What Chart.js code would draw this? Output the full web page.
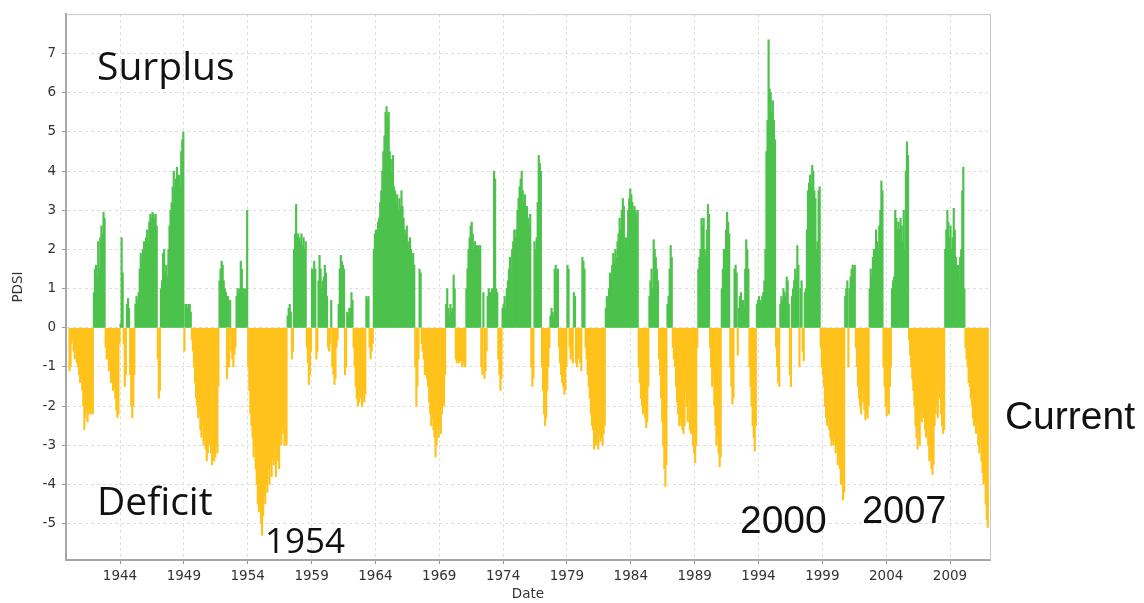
<!DOCTYPE html>
<html>
<head>
<meta charset="utf-8">
<script src="https://cdn.jsdelivr.net/npm/chart.js@4.4.1/dist/chart.umd.min.js"></script>
<style>
    html, body { margin: 0; padding: 0; background: #fff; }
</style>
</head>
<body>
<canvas id="chartPdsi" width="1144" height="603"></canvas>
<script>

// ================= DATI (PDSI mensile) =================

const primoAnno = 1940;

const pdsi1940s = [
    -1.1, -1.0, -0.4, -0.3, -0.6, -0.8, -0.5, -0.9, -1.0, -1.2, -1.4, -1.3,
    -1.6, -2.0, -2.6, -2.3, -2.1, -2.4, -2.2, -2.1, -2.2, -2.1, -2.2, 0.9,
    1.5, 1.6, 1.3, 2.2, 1.5, 2.3, 2.6, 2.4, 2.95, 2.8, -0.5, -0.8,
    -0.8, -1.1, -1.0, -1.4, -1.3, -1.6, -1.5, -1.8, -2.1, -2.3, -2.2, -0.4,
    0.1, 2.3, 1.4, -0.4, -1.5, -1.2, 0.6, 0.75, 0.5, -1.2, -2.0, -2.3,
    -2.0, -1.2, 0.6, 0.8, 0.7, 0.9, 1.5, 1.9, 1.7, 2.0, 2.2, 2.0,
    2.3, 2.5, 2.2, 2.7, 2.9, 2.8, 2.95, 2.9, 2.8, 2.9, 2.6, -0.8,
    -1.8, -1.6, 1.0, 1.2, 1.9, 2.0, 1.4, 1.6, 1.3, 2.0, 2.6, 3.0,
    3.2, 3.6, 4.0, 3.5, 3.8, 4.1, 3.4, 3.9, 3.6, 4.5, 4.8, 5.0,
    -0.6, 0.6, 0.6, 0.5, 0.6, 0.6, 0.4, -0.3, -0.6, -1.0, -1.4, -1.8
];

const pdsi1950s = [
    -2.0, -2.3, -2.2, -2.6, -2.8, -2.5, -3.0, -2.9, -3.1, -3.4, -3.2, -3.0,
    -2.8, -3.2, -3.5, -3.1, -3.4, -3.3, -3.0, -3.2, -1.5, 1.2, 1.5, 1.7,
    1.6, 1.2, 1.0, 0.9, -1.3, 0.8, -1.0, 0.7, -0.6, -0.8, -1.0, -0.7,
    -0.5, 0.8, 1.0, 0.9, 1.0, 1.7, 1.5, 0.9, 1.0, 0.8, 1.0, 3.0,
    -1.0, -1.6, -2.2, -2.5, -2.8, -3.3, -3.0, -3.6, -4.0, -4.5, -4.7, -4.6,
    -5.0, -5.3, -4.8, -4.3, -4.5, -4.0, -4.2, -3.6, -4.0, -3.5, -3.8, -3.3,
    -3.5, -3.0, -3.8, -3.4, -3.2, -3.6, -2.8, -3.0, -2.5, -2.7, -3.0, -2.9,
    -3.0, 0.3, 0.5, 0.6, 0.4, -0.8, -0.6, 2.0, 2.4, 3.15, 2.3, 2.4,
    2.3, 2.2, 2.4, 2.1, 2.3, 2.0, 2.2, -0.5, -0.9, -1.45, -1.2, -0.6,
    1.5, 1.4, 1.7, 1.5, -0.8, -0.6, 1.2, 1.85, 1.5, 1.0, 1.2, 1.3
];

const pdsi1960s = [
    1.6, 1.4, 0.8, -0.5, -0.6, -0.4, 0.7, -1.0, -1.2, -1.45, -1.3, -0.5,
    -0.3, 0.6, 1.5, 1.85, 1.7, 1.6, 1.5, -1.2, -1.0, 0.4, 0.3, 0.5,
    0.5, 0.9, 0.7, -0.5, -1.0, -1.5, -1.8, -2.0, -1.9, -1.6, -1.8, -2.0,
    -1.5, -1.9, -1.7, 0.8, 0.7, 0.8, -0.5, -0.8, -0.6, -0.4, 2.0, 2.4,
    2.5, 2.3, 2.7, 2.8, 3.2, 3.5, 4.0, 4.5, 4.9, 5.5, 5.65, 5.4,
    5.5, 4.5, 4.3, 4.0, 4.4, 3.6, 3.5, 3.2, 3.4, 3.0, 3.3, 3.1,
    3.5, 3.1, 2.8, 2.5, 2.4, 2.6, 2.2, 2.0, 2.3, 2.0, 1.8, 1.9,
    1.6, -1.0, -2.0, -1.5, -0.8, 1.5, 1.4, -0.4, -0.6, -0.8, -1.2, -1.0,
    -1.3, -1.5, -1.9, -2.2, -2.5, -2.3, -2.6, -2.8, -3.3, -3.0, -2.6, -2.8,
    -2.5, -2.7, -2.2, -1.8, -2.0, -1.2, 0.6, 1.0, 0.5, 0.3, 0.6, 0.4
];

const pdsi1970s = [
    0.5, 1.35, 1.0, -0.8, -0.9, -0.85, -0.9, -0.8, -0.85, -1.0, -0.9, -0.95,
    -1.0, 1.0, 1.5, 2.0, 2.3, 2.6, 2.7, 2.4, 2.0, 2.2, 2.1, 2.0,
    2.1, 2.0, 2.1, -1.0, -1.2, 0.9, -1.3, -1.1, -0.6, 0.8, 1.0, 0.9,
    0.9, 1.0, 0.8, 4.0, 3.8, 1.0, 0.9, -0.8, -1.2, -1.6, -1.3, 0.5,
    0.6, 0.8, 0.5, 1.0, 1.2, 1.5, 1.8, 1.4, 2.0, 2.2, 2.5, 2.3,
    2.5, 3.0, 3.3, 3.6, 3.8, 4.0, 3.5, 3.2, 3.4, 3.0, 3.1, 2.8,
    2.6, 2.9, -1.0, -1.5, -1.3, 2.2, 2.0, 2.3, 3.2, 4.4, 4.2, 4.0,
    -1.0, -1.6, -2.2, -2.5, -2.3, -1.6, -1.0, -0.5, 0.3, 0.5, 0.4, 0.3,
    1.5, 1.6, 1.4, 1.5, -0.5, -0.9, -1.2, -1.4, -1.5, -1.7, -1.6, -1.0,
    1.6, 1.5, -0.5, -0.8, -0.7, -0.9, 0.9, 0.8, -0.9, -1.0, -0.8, -0.6
];

const pdsi1980s = [
    -0.9, -1.1, 1.8, 1.7, 1.5, -0.5, -0.8, -1.2, -1.5, -1.8, -2.2, -2.5,
    -2.6, -3.1, -2.9, -3.0, -2.8, -3.1, -2.7, -2.9, -2.8, -3.0, -2.7, -2.5,
    0.5, 0.8, 0.7, 1.0, 1.4, 1.2, 1.6, 1.9, 1.7, 2.0, 1.8, 2.2,
    2.4, 2.8, 2.5, 3.0, 3.3, 3.1, 2.0, 2.3, 2.1, 3.0, 3.3, 3.55,
    3.4, 3.2, 3.0, 3.1, 3.0, 2.9, 3.0, -1.0, -1.4, -1.8, -2.0, -2.2,
    -2.0, -2.3, -2.55, -2.4, -1.5, 0.8, 1.2, 1.5, 1.0, 2.25, 2.0, 1.8,
    1.5, 1.2, -0.8, -1.2, -1.8, -2.4, -3.0, -3.6, -4.05, -3.5, 0.6, 0.8,
    1.5, 2.1, 1.8, -0.5, -0.8, -1.0, -1.5, -1.9, -2.2, -2.5, -2.3, -2.5,
    -2.6, -2.7, -2.5, -1.6, -2.0, -2.4, -1.8, -2.6, -2.7, -2.5, -3.0, -3.2,
    -3.45, -3.0, -0.5, 1.5, 1.8, 2.0, 2.8, 2.6, 2.8, 2.0, 1.8, 2.5
];

const pdsi1990s = [
    3.15, 2.9, -0.5, -1.0, -1.5, -1.2, -2.0, -2.5, -3.0, -2.8, -3.2, -3.55,
    -3.3, 1.0, 1.5, 2.0, 1.8, 2.5, 2.95, 2.7, 2.4, -1.0, -1.5, -1.95,
    -1.8, 1.5, 1.6, 1.4, -0.7, 0.5, 0.8, 0.9, 0.6, 0.7, 0.5, 1.5,
    2.25, 2.0, 1.5, -1.0, -1.5, -2.0, -2.5, -2.8, -3.15, -2.5, 0.6, 0.7,
    0.8, 0.7, 0.6, 0.8, 0.9, 1.2, 2.0, 4.5, 5.3, 7.35, 6.1, 6.0,
    5.5, 5.8, 5.3, 4.8, -0.5, -1.0, -1.4, -1.5, 0.6, 0.8, 0.7, 1.0,
    0.9, 0.8, 1.3, 1.2, 0.6, -1.2, -1.5, 0.8, 1.0, 1.2, 1.5, 1.3,
    2.1, 1.6, -1.0, 1.0, 1.2, -0.6, -0.85, 0.9, 1.0, 2.5, 3.5, 3.7,
    3.9, 3.6, 4.15, 4.0, 3.5, 3.3, 2.0, 2.2, 3.5, 3.6, -0.5, -1.0,
    -1.2, -1.5, -2.0, -2.3, -2.5, -2.3, -2.6, -2.8, -3.0, -2.9, -3.0, -2.8
];

const pdsi2000s = [
    -3.2, -3.0, -3.5, -3.3, -3.6, -4.0, -3.8, -4.4, -4.2, 0.8, 1.0, 1.2,
    -1.0, 1.0, 1.3, 1.5, 1.6, 1.5, 1.6, -0.5, -1.0, -1.5, -1.8, -2.0,
    -2.2, -1.6, -1.9, -2.1, -2.35, -2.2, -2.3, -2.0, 1.0, 1.5, 1.3, 1.8,
    2.0, 1.7, 2.5, 2.2, 2.0, 2.6, 3.0, 3.75, 3.5, -1.0, -1.5, -2.0,
    -2.25, -1.8, -2.2, -1.5, -1.0, 1.0, 1.2, 1.3, 3.0, 2.8, 2.5, 2.7,
    2.5, 2.8, 2.6, 2.2, 3.0, 2.0, 4.0, 4.75, 4.4, -0.3, -0.7, -1.0,
    -1.3, -1.6, -2.0, -2.5, -2.8, -3.1, -2.7, -3.0, -2.2, -2.4, -2.0, -2.3,
    -2.6, -2.8, -2.5, -3.0, -3.4, -3.2, -3.6, -3.75, -3.5, -2.5, -2.2, -2.0,
    -2.3, -1.5, -1.8, -2.2, -2.5, -2.7, -2.6, 2.0, 2.5, 3.0, 2.7, 2.3,
    2.6, 2.0, 2.3, 3.05, 2.5, 1.8, 1.5, 1.6, 1.2, 1.8, 2.0, 3.5
];

const pdsi2010s = [
    4.1, 1.0, -0.5, -0.8, -1.0, -1.4, -1.5, -1.8, -2.0, -2.3, -2.5, -2.2,
    -2.7, -2.5, -3.0, -3.2, -2.8, -3.4, -3.7, -4.0, -3.9, -4.5, -4.9, -5.1
];

const anniTick = [1944, 1949, 1954, 1959, 1964, 1969, 1974, 1979, 1984, 1989, 1994, 1999, 2004, 2009];

const valoriTick = [-5, -4, -3, -2, -1, 0, 1, 2, 3, 4, 5, 6, 7];

const scritte = ["Surplus", "Deficit", "1954", "2000", "2007", "Current"];

// ================= PUNTI =================

const valori = [].concat(
    pdsi1940s, pdsi1950s, pdsi1960s, pdsi1970s,
    pdsi1980s, pdsi1990s, pdsi2000s, pdsi2010s
);

// ogni barra al centro del suo mese
const punti = valori.map((v, i) => ({
    x: primoAnno + (i + 0.5) / 12,
    y: v
}));

const VERDE = "#4cc24c";
const GIALLO = "#ffc21c";

// ================= SCRITTE =================

const calibri = "'Open Sans', 'Noto Sans', sans-serif";
const arial = "'Liberation Sans', Arial, sans-serif";

// posizione in unità dati (anno, PDSI), bordo sinistro / centro verticale
const posScritte = [
    { anno: 1942.2, pdsi: 6.62, font: "39px " + calibri },
    { anno: 1942.2, pdsi: -4.5, font: "39px " + calibri },
    { anno: 1955.35, pdsi: -5.5, font: "35px " + calibri },
    { anno: 1992.55, pdsi: -4.97, font: "39px " + arial },
    { anno: 2002.1, pdsi: -4.72, font: "38px " + arial },
    { anno: 2013.3, pdsi: -2.32, font: "39px " + arial }
];

const pluginScritte = {

    id: "scritte",

    afterDraw(chart) {

        const { ctx, chartArea, scales } = chart;

        ctx.save();

        // bordo alto e destro del riquadro
        ctx.strokeStyle = "#c8c8c8";
        ctx.lineWidth = 1;
        ctx.beginPath();
        ctx.moveTo(chartArea.left, chartArea.top + 0.5);
        ctx.lineTo(chartArea.right + 0.5, chartArea.top + 0.5);
        ctx.lineTo(chartArea.right + 0.5, chartArea.bottom);
        ctx.stroke();

        ctx.fillStyle = "#111";
        ctx.textAlign = "left";
        ctx.textBaseline = "middle";

        scritte.forEach((t, i) => {

            const p = posScritte[i];

            ctx.font = p.font;
            ctx.fillText(
                t,
                scales.x.getPixelForValue(p.anno),
                scales.y.getPixelForValue(p.pdsi)
            );

        });

        ctx.restore();

    }

};

// ================= GRAFICO =================

const fontTick = { family: "'DejaVu Sans', sans-serif", size: 13.5 };

new Chart(document.getElementById("chartPdsi").getContext("2d"), {

    type: "bar",

    data: {

        datasets: [{

            data: punti,

            backgroundColor: ctx =>
                ctx.raw && ctx.raw.y < 0 ? GIALLO : VERDE,

            borderWidth: 0,

            barThickness: 1.5

        }]

    },

    options: {

        responsive: false,

        devicePixelRatio: 1,

        animation: false,

        layout: {
            padding: { top: 8, right: 154, left: 0, bottom: 0 }
        },

        plugins: {
            legend: { display: false },
            tooltip: { enabled: false }
        },

        scales: {

            x: {

                type: "linear",

                offset: false,

                min: 1939.77,

                max: 2012.13,

                afterBuildTicks: s => {
                    s.ticks = anniTick.map(v => ({ value: v }));
                },

                afterFit: s => { s.height = 43; },

                ticks: {
                    autoSkip: false,
                    maxRotation: 0,
                    padding: 4,
                    color: "#333",
                    font: fontTick,
                    callback: v => String(v)
                },

                grid: {
                    offset: false,
                    color: "#dedede",
                    tickColor: "#9a9a9a",
                    tickLength: 4
                },

                border: { color: "#a6a6a6", width: 2, dash: [3, 3] },

                title: {
                    display: true,
                    text: "Date",
                    color: "#333",
                    font: fontTick,
                    padding: { top: 0, bottom: 0 }
                }

            },

            y: {

                min: -5.93,

                max: 8.01,

                afterBuildTicks: s => {
                    s.ticks = valoriTick.map(v => ({ value: v }));
                },

                afterFit: s => { s.width = 66; },

                ticks: {
                    padding: 6,
                    color: "#333",
                    font: fontTick
                },

                grid: {
                    color: "#dedede",
                    tickColor: "#9a9a9a",
                    tickLength: 4
                },

                border: { color: "#a6a6a6", width: 2, dash: [3, 3] },

                title: {
                    display: true,
                    text: "PDSI",
                    color: "#333",
                    font: fontTick,
                    padding: { top: 10, bottom: 0 }
                }

            }

        }

    },

    plugins: [pluginScritte]

});

</script>
</body>
</html>
